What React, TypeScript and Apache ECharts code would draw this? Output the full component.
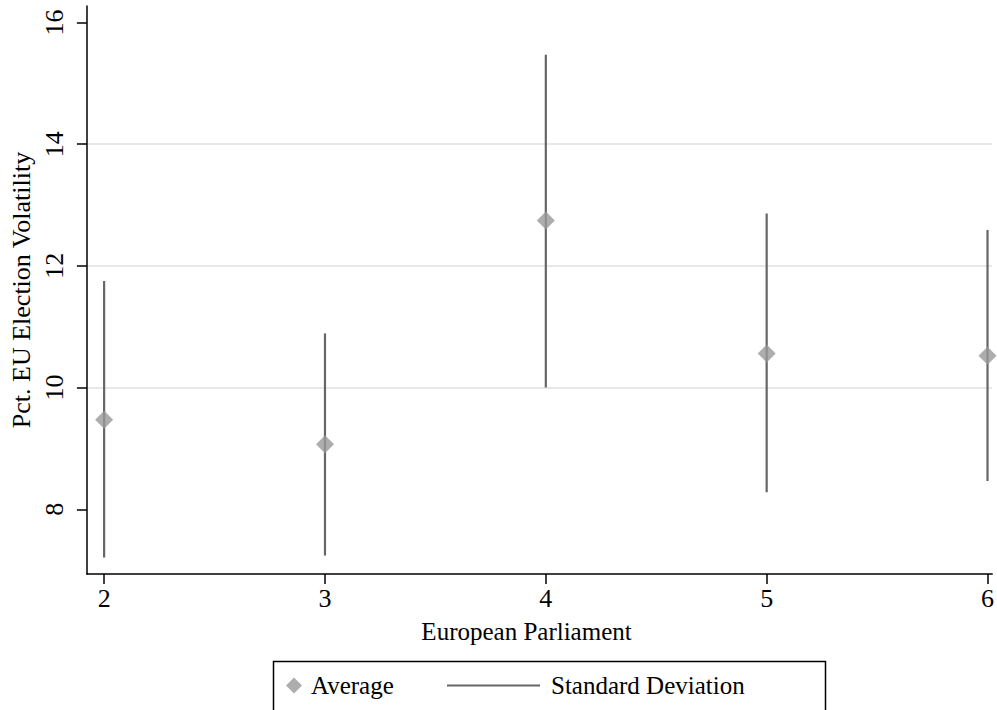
import React, { useEffect, useRef } from "react";
import * as echarts from "echarts";

const parliaments = [2, 3, 4, 5, 6];
const averages = [9.47, 9.07, 12.745, 10.56, 10.525];
const sdLower = [7.21, 7.24, 10.0, 8.28, 8.465];
const sdUpper = [11.75, 10.89, 15.47, 12.86, 12.59];
const yTicks = [8, 10, 12, 14, 16];
const xTicks = [2, 3, 4, 5, 6];

const FONT = "'Liberation Serif', 'Times New Roman', serif";

export default function App() {
  const ref = useRef<HTMLDivElement>(null);
  useEffect(() => {
    if (!ref.current) return;
    const chart = echarts.init(ref.current, undefined, { renderer: "svg" });
    const meanData = parliaments.map((p, i) => [p, averages[i]]);
    const barData = parliaments.map((p, i) => [p, sdLower[i], sdUpper[i]]);
    chart.setOption({
      animation: false,
      backgroundColor: "#ffffff",
      grid: { left: 83, top: 6, right: 0, bottom: 136, containLabel: false },
      xAxis: {
        type: "value",
        min: 1.922,
        max: 6.021,
        name: "European Parliament",
        nameLocation: "middle",
        nameGap: 45,
        nameTextStyle: { fontFamily: FONT, fontSize: 25, color: "#000", padding: [0, 26, 0, 0] },
        axisLine: { show: true, lineStyle: { color: "#000", width: 1.5 } },
        axisTick: { show: true, length: 10, customValues: xTicks, lineStyle: { color: "#000", width: 1.5 } },
        axisLabel: { customValues: xTicks, fontFamily: FONT, fontSize: 26, color: "#000", margin: 11 },
        splitLine: { show: false },
      },
      yAxis: {
        type: "value",
        min: 6.937,
        max: 16.27,
        name: "Pct. EU Election Volatility",
        nameLocation: "middle",
        nameGap: 48,
        nameTextStyle: { fontFamily: FONT, fontSize: 26, color: "#000" },
        axisLine: { show: true, lineStyle: { color: "#000", width: 1.5 } },
        axisTick: { show: true, length: 10, customValues: yTicks, lineStyle: { color: "#000", width: 1.5 } },
        axisLabel: { customValues: yTicks, rotate: 90, fontFamily: FONT, fontSize: 26, color: "#000", margin: 19 },
        splitLine: { show: true, showMinLine: false, showMaxLine: false, lineStyle: { color: "#e8e8e8", width: 2 } },
      },
      legend: [
        {
          data: [{ name: "Average", icon: "diamond" }],
          left: 281,
          top: 668,
          itemWidth: 16,
          itemHeight: 16,
          itemGap: 0,
          textStyle: { fontFamily: FONT, fontSize: 25, color: "#000", padding: [0, 0, 0, 4] },
          selectedMode: false,
        },
        {
          data: [{ name: "Standard Deviation", icon: "rect" }],
          left: 442,
          top: 668,
          itemWidth: 93,
          itemHeight: 2,
          textStyle: { fontFamily: FONT, fontSize: 25, color: "#000", padding: [0, 0, 0, 6] },
          selectedMode: false,
        },
      ],
      graphic: [
        {
          type: "rect",
          shape: { x: 273.5, y: 661.5, width: 552, height: 60 },
          style: { fill: "none", stroke: "#000", lineWidth: 1.5 },
          silent: true,
        },
      ],
      series: [
        {
          name: "Standard Deviation",
          type: "custom",
          itemStyle: { color: "#666666" },
          renderItem: (params: any, api: any) => {
            const x = api.value(0);
            const lo = api.coord([x, api.value(1)]);
            const hi = api.coord([x, api.value(2)]);
            return {
              type: "line",
              shape: { x1: lo[0], y1: lo[1], x2: hi[0], y2: hi[1] },
              style: { stroke: "#666666", lineWidth: 2.2 },
            };
          },
          encode: { x: 0, y: [1, 2] },
          data: barData,
          z: 2,
          clip: false,
        },
        {
          name: "Average",
          type: "scatter",
          symbol: "diamond",
          symbolSize: [18, 18],
          itemStyle: { color: "#999999" },
          data: meanData,
          z: 3,
          clip: false,
        },
      ],
    });
    return () => chart.dispose();
  }, []);
  return (
    <div
      ref={ref}
      style={{ position: "absolute", left: 0, top: 0, width: 997, height: 710 }}
    />
  );
}
